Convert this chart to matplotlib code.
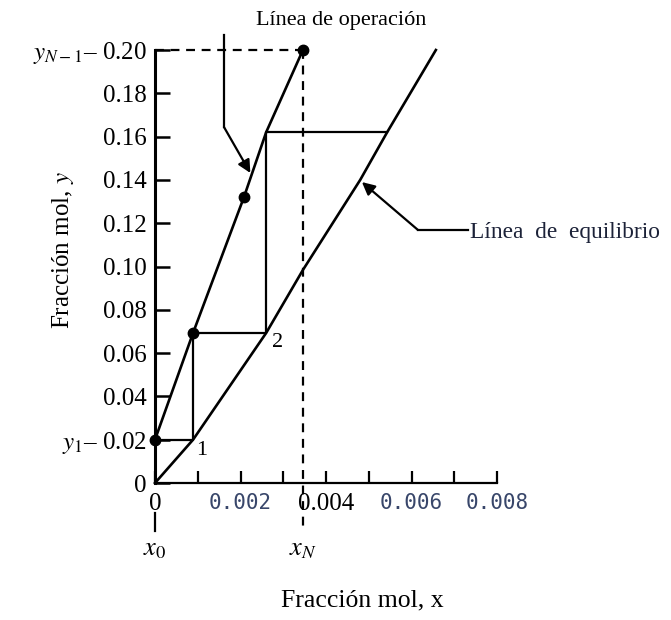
import matplotlib
matplotlib.use("Agg")
import matplotlib.pyplot as plt

plt.rcParams['font.family'] = ['Liberation Serif', 'DejaVu Serif']
plt.rcParams['mathtext.fontset'] = 'stix'

# Operating line (curved)
op_x = [0.0, 0.00089, 0.00208, 0.00260, 0.00346]
op_y = [0.02, 0.0693, 0.132, 0.162, 0.200]
op_dots = [0, 1, 2, 4]  # points marked with a dot

# Equilibrium line
eq_x = [0.0, 0.00089, 0.00260, 0.00346, 0.00480, 0.00543, 0.00657]
eq_y = [0.0, 0.02, 0.0693, 0.0984, 0.140, 0.162, 0.200]

# Stage construction (x_n on equilibrium, y_n on operating line)
stage_x = [0.0, 0.00089, 0.00260, 0.00543]
stage_y = [0.02, 0.0693, 0.162]
x_N = 0.00346
y_top = 0.20

y_ticks = [0, 0.02, 0.04, 0.06, 0.08, 0.10, 0.12, 0.14, 0.16, 0.18, 0.20]
y_labels = ["0", "$y_1$\u2013 0.02", "0.04", "0.06", "0.08", "0.10", "0.12",
            "0.14", "0.16", "0.18", "$y_{N-1}$\u2013 0.20"]
x_ticks = [0, 0.001, 0.002, 0.003, 0.004, 0.005, 0.006, 0.007, 0.008]
x_labels = ["0", "", "0.002", "", "0.004", "", "0.006", "", "0.008"]

fig = plt.figure(figsize=(6.71, 6.20), dpi=100)
ax = fig.add_axes([155 / 671, 137 / 620, 342 / 671, 433 / 620])

# curves
ax.plot(op_x, op_y, color="black", lw=1.9, clip_on=False)
ax.plot(eq_x, eq_y, color="black", lw=1.9, clip_on=False)
ax.plot([op_x[i] for i in op_dots], [op_y[i] for i in op_dots], "o",
        color="black", ms=7.5, clip_on=False, zorder=5)

# steps
sx, sy = [stage_x[0]], [stage_y[0]]
for i in range(len(stage_y)):
    sx.append(stage_x[i + 1]); sy.append(stage_y[i])
    if i + 1 < len(stage_y):
        sx.append(stage_x[i + 1]); sy.append(stage_y[i + 1])
ax.plot(sx, sy, color="black", lw=1.6, clip_on=False)

# dashed guides
ax.plot([0, x_N], [y_top, y_top], color="black", lw=1.6, ls=(0, (4, 3)), clip_on=False)
ax.plot([x_N, x_N], [y_top, -0.022], color="black", lw=1.6, ls=(0, (4, 3)), clip_on=False)
ax.plot([0, 0], [-0.014, -0.022], color="black", lw=1.6, clip_on=False)

ax.set_xlim(0, 0.008)
ax.set_ylim(0, 0.20)
for s in ["top", "right"]:
    ax.spines[s].set_visible(False)
ax.spines["left"].set_linewidth(2.2)
ax.spines["bottom"].set_linewidth(1.6)

ax.set_yticks(y_ticks)
ax.set_yticklabels(y_labels, fontsize=18)
ax.set_xticks(x_ticks)
ax.set_xticklabels(x_labels, fontsize=18)
ax.tick_params(axis="y", direction="in", length=11, width=1.8, pad=6)
ax.tick_params(axis="x", direction="in", length=9, width=1.6, pad=7)
for lab in ax.get_xticklabels():
    if lab.get_text() in ("0.002", "0.006", "0.008"):
        lab.set_fontfamily("DejaVu Sans Mono")
        lab.set_fontsize(15)
        lab.set_color("#38466a")

# stage numbers
ax.annotate("1", (stage_x[1], stage_y[0]), xytext=(6, -8), textcoords="offset points",
            fontsize=16, ha="center", va="center")
ax.annotate("2", (stage_x[2], stage_y[1]), xytext=(8, -7), textcoords="offset points",
            fontsize=16, ha="center", va="center")

# x0 / xN labels
ax.text(0, -0.031, "$x_0$", fontsize=19, ha="center", va="center", clip_on=False)
ax.text(x_N, -0.031, "$x_N$", fontsize=19, ha="center", va="center", clip_on=False)

# operating line callout
ax.plot([0.001614, 0.001614], [0.2069, 0.1644], color="black", lw=1.6, clip_on=False)
ax.annotate("", xy=(0.00223, 0.1432), xytext=(0.001614, 0.1644),
            arrowprops=dict(arrowstyle="-|>", color="black", lw=1.6, mutation_scale=19,
                            shrinkA=0, shrinkB=0), annotation_clip=False)
fig.text(341 / 671, 1 - 20 / 620, "L\u00ednea de operaci\u00f3n", fontsize=16,
         ha="center", va="center")

# equilibrium line callout
ax.plot([0.00732, 0.00615], [0.1169, 0.1169], color="black", lw=1.6, clip_on=False)
ax.annotate("", xy=(0.00484, 0.139), xytext=(0.00615, 0.1169),
            arrowprops=dict(arrowstyle="-|>", color="black", lw=1.6, mutation_scale=19,
                            shrinkA=0, shrinkB=0), annotation_clip=False)
fig.text(470 / 671, 1 - 232 / 620, "L\u00ednea  de  equilibrio", fontsize=16.8,
         ha="left", va="center", color="#1c2238")

# axis titles
fig.text(63 / 671, 1 - 250 / 620, "Fracci\u00f3n mol, $y$", fontsize=18, rotation=90,
         ha="center", va="center")
fig.text(362 / 671, 1 - 600 / 620, "Fracci\u00f3n mol, x", fontsize=18.5,
         ha="center", va="center")

fig.savefig("out.png", dpi=100)
